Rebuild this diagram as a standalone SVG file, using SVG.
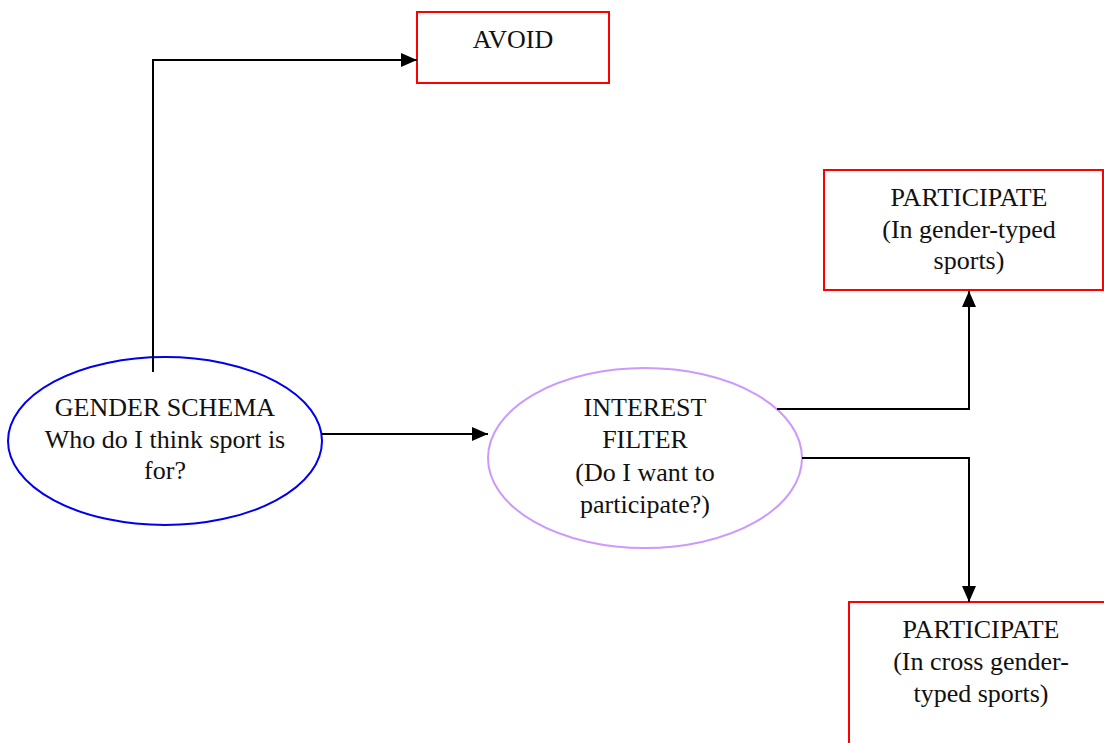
<svg xmlns="http://www.w3.org/2000/svg" width="1104" height="743" viewBox="0 0 1104 743">
<style>
text{font-family:"Liberation Serif","Times New Roman",serif;font-size:26px;fill:#111;text-anchor:middle}
.box{fill:#fff;stroke:#ff0000;stroke-width:2}
.conn{fill:none;stroke:#000;stroke-width:2}
</style>
<defs>
<marker id="arr" viewBox="0 0 16 14" refX="16" refY="7" markerWidth="16" markerHeight="14" markerUnits="userSpaceOnUse" orient="auto">
<path d="M0,0 L16,7 L0,14 Z" fill="#000"/>
</marker>
</defs>
<rect width="1104" height="743" fill="#fff"/>
<g id="avoid">
<rect class="box" x="417" y="12" width="192" height="71"/>
<text x="513" y="48">AVOID</text>
</g>
<g id="participate-typed">
<rect class="box" x="824" y="170" width="279" height="120"/>
<text x="969" y="206">PARTICIPATE</text>
<text x="969" y="238">(In gender-typed</text>
<text x="969" y="269">sports)</text>
</g>
<g id="participate-cross">
<rect class="box" x="849" y="602" width="270" height="160"/>
<text x="981" y="638">PARTICIPATE</text>
<text x="981" y="670">(In cross gender-</text>
<text x="981" y="702">typed sports)</text>
</g>
<g id="gender-schema">
<ellipse cx="165" cy="441" rx="157" ry="84" fill="#fff" stroke="#0000ee" stroke-width="2"/>
<text x="165" y="416">GENDER SCHEMA</text>
<text x="165" y="448">Who do I think sport is</text>
<text x="165" y="479">for?</text>
</g>
<g id="interest-filter">
<ellipse cx="645" cy="458" rx="157" ry="90" fill="#fff" stroke="#cc99ff" stroke-width="2"/>
<text x="645" y="416">INTEREST</text>
<text x="645" y="448">FILTER</text>
<text x="645" y="481">(Do I want to</text>
<text x="645" y="513">participate?)</text>
</g>
<g id="connectors">
<path class="conn" d="M153,372 V60 H417" marker-end="url(#arr)"/>
<path class="conn" d="M322,434 H488" marker-end="url(#arr)"/>
<path class="conn" d="M777,409 H969 V291" marker-end="url(#arr)"/>
<path class="conn" d="M802,458 H969 V602" marker-end="url(#arr)"/>
</g>
</svg>
